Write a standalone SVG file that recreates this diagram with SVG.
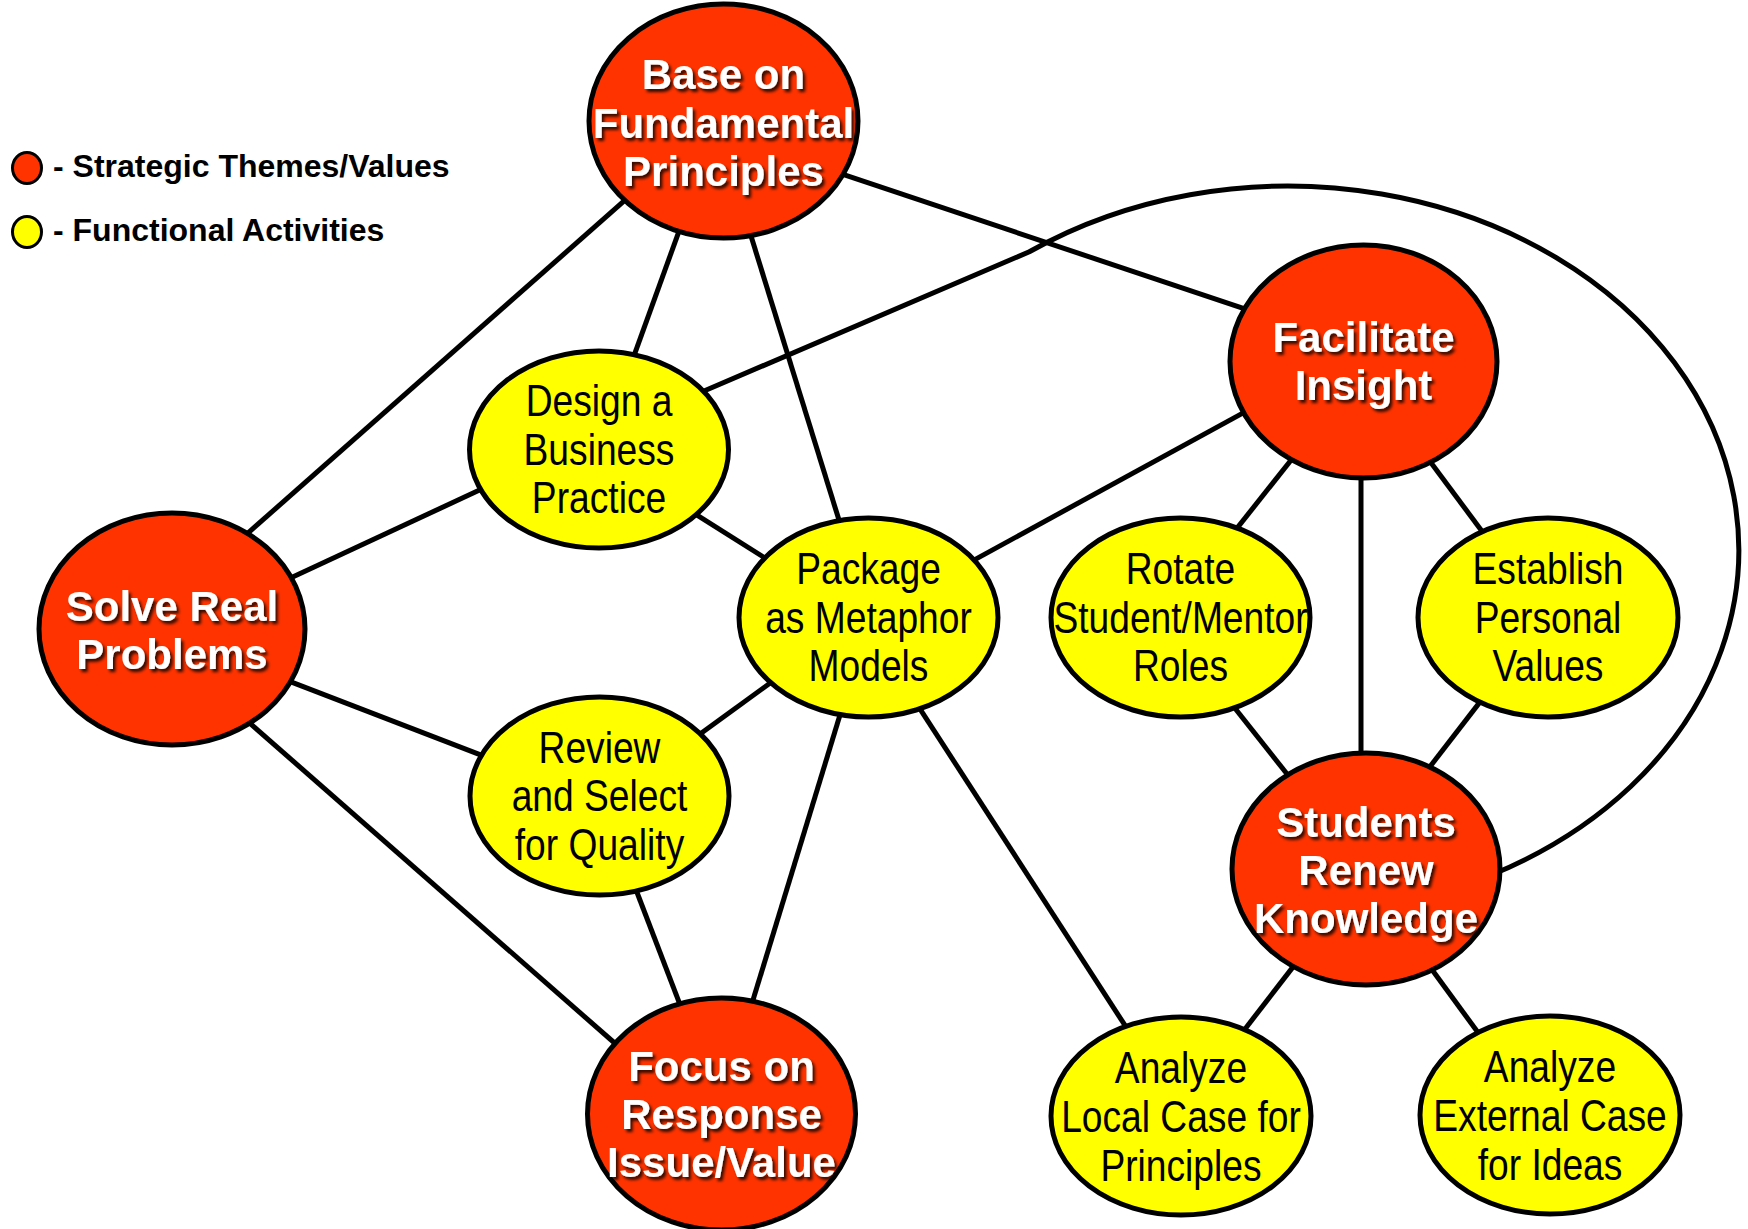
<svg xmlns="http://www.w3.org/2000/svg" width="1748" height="1229" viewBox="0 0 1748 1229">
<defs>
<filter id="sh" x="-10%" y="-20%" width="130%" height="150%">
<feDropShadow dx="2.5" dy="3" stdDeviation="1.5" flood-color="#000" flood-opacity="0.8"/>
</filter>
</defs>
<style>
.red{fill:#FF3300;stroke:#000;stroke-width:5}
.yel{fill:#FFFF00;stroke:#000;stroke-width:5}
.lg{stroke:#000;stroke-width:3}
.conn line,.conn path{stroke:#000;stroke-width:5;fill:none}
.rt{font-family:"Liberation Sans",Arial,sans-serif;font-weight:bold;font-size:42px;fill:#fff;text-anchor:middle;filter:url(#sh)}
.yt{font-family:"Liberation Sans",Arial,sans-serif;font-size:43.5px;fill:#000;text-anchor:middle}
.lt{font-family:"Liberation Sans",Arial,sans-serif;font-weight:bold;font-size:32px;fill:#000}
</style>
<rect width="1748" height="1229" fill="#fff"/>
<g id="legend">
<ellipse class="red lg" cx="27" cy="168" rx="14.5" ry="15.5"/>
<text class="lt" x="53" y="177">- Strategic Themes/Values</text>
<ellipse class="yel lg" cx="27" cy="232" rx="14.5" ry="15.5"/>
<text class="lt" x="53" y="241">- Functional Activities</text>
</g>
<g id="connectors" class="conn">
<line x1="631.5" y1="194.4" x2="240.5" y2="539.6"/>
<line x1="681.2" y1="225.1" x2="631.6" y2="362.4"/>
<line x1="749" y1="229.5" x2="841.8" y2="529.1"/>
<line x1="835.5" y1="171.8" x2="1254.5" y2="312.2"/>
<line x1="488.7" y1="485.8" x2="284.6" y2="580.7"/>
<line x1="689.5" y1="510.4" x2="772.9" y2="563"/>
<line x1="967.5" y1="563.6" x2="1252.8" y2="407.6"/>
<line x1="777" y1="678.1" x2="693.9" y2="738.4"/>
<line x1="842.4" y1="707.1" x2="750.1" y2="1009.6"/>
<line x1="915.9" y1="702.6" x2="1129.4" y2="1032.2"/>
<line x1="284.4" y1="679.4" x2="490.3" y2="758.6"/>
<line x1="245.3" y1="719.2" x2="618" y2="1046"/>
<line x1="633.4" y1="883" x2="682.6" y2="1011.3"/>
<line x1="1295.7" y1="454.2" x2="1231.3" y2="535.4"/>
<line x1="1361" y1="470" x2="1361" y2="762"/>
<line x1="1426" y1="456" x2="1487" y2="538"/>
<line x1="1229.4" y1="701.2" x2="1292" y2="780.3"/>
<line x1="1484.5" y1="696.1" x2="1423.6" y2="774.9"/>
<line x1="1297.5" y1="961.1" x2="1241.4" y2="1033.7"/>
<line x1="1427.5" y1="963.5" x2="1482.4" y2="1038.6"/>
<path d="M690,397 L1029.3,251.8 A451,364 0 1 1 1492.8,874.3"/>
</g>
<g id="base">
<ellipse class="red" cx="723.5" cy="121" rx="134.5" ry="117"/>
<text class="rt"><tspan x="723.5" y="89">Base on</tspan><tspan x="723.5" y="137.5">Fundamental</tspan><tspan x="723.5" y="186">Principles</tspan></text>
</g>
<g id="facilitate">
<ellipse class="red" cx="1363.5" cy="361.5" rx="133.5" ry="116.5"/>
<text class="rt"><tspan x="1363.5" y="352">Facilitate</tspan><tspan x="1363.5" y="400">Insight</tspan></text>
</g>
<g id="solve">
<ellipse class="red" cx="172" cy="629" rx="133" ry="116"/>
<text class="rt"><tspan x="172" y="621">Solve Real</tspan><tspan x="172" y="669">Problems</tspan></text>
</g>
<g id="students">
<ellipse class="red" cx="1366" cy="869" rx="134" ry="116"/>
<text class="rt"><tspan x="1366" y="837">Students</tspan><tspan x="1366" y="885">Renew</tspan><tspan x="1366" y="933">Knowledge</tspan></text>
</g>
<g id="focus">
<ellipse class="red" cx="721.5" cy="1114" rx="134" ry="116"/>
<text class="rt"><tspan x="721.5" y="1081">Focus on</tspan><tspan x="721.5" y="1129">Response</tspan><tspan x="721.5" y="1177">Issue/Value</tspan></text>
</g>
<g id="design">
<ellipse class="yel" cx="599" cy="449.5" rx="129.5" ry="98.5"/>
<text class="yt" transform="translate(599 0) scale(0.855 1)"><tspan x="0" y="416.5">Design a</tspan><tspan x="0" y="465">Business</tspan><tspan x="0" y="513.5">Practice</tspan></text>
</g>
<g id="package">
<ellipse class="yel" cx="868.5" cy="617.5" rx="129.5" ry="99.5"/>
<text class="yt" transform="translate(868.5 0) scale(0.855 1)"><tspan x="0" y="584.5">Package</tspan><tspan x="0" y="633">as Metaphor</tspan><tspan x="0" y="681.5">Models</tspan></text>
</g>
<g id="review">
<ellipse class="yel" cx="599.5" cy="796" rx="129.5" ry="99"/>
<text class="yt" transform="translate(599.5 0) scale(0.855 1)"><tspan x="0" y="763">Review</tspan><tspan x="0" y="811.5">and Select</tspan><tspan x="0" y="860">for Quality</tspan></text>
</g>
<g id="rotate">
<ellipse class="yel" cx="1180.5" cy="617.5" rx="129.5" ry="99.5"/>
<text class="yt" transform="translate(1180.5 0) scale(0.855 1)"><tspan x="0" y="584.5">Rotate</tspan><tspan x="0" y="633">Student/Mentor</tspan><tspan x="0" y="681.5">Roles</tspan></text>
</g>
<g id="establish">
<ellipse class="yel" cx="1548" cy="617.5" rx="130" ry="99.5"/>
<text class="yt" transform="translate(1548 0) scale(0.855 1)"><tspan x="0" y="584.5">Establish</tspan><tspan x="0" y="633">Personal</tspan><tspan x="0" y="681.5">Values</tspan></text>
</g>
<g id="analyze-local">
<ellipse class="yel" cx="1181" cy="1116" rx="130" ry="99"/>
<text class="yt" transform="translate(1181 0) scale(0.855 1)"><tspan x="0" y="1083">Analyze</tspan><tspan x="0" y="1132">Local Case for</tspan><tspan x="0" y="1181">Principles</tspan></text>
</g>
<g id="analyze-external">
<ellipse class="yel" cx="1550" cy="1115" rx="130" ry="99"/>
<text class="yt" transform="translate(1550 0) scale(0.855 1)"><tspan x="0" y="1082.5">Analyze</tspan><tspan x="0" y="1131.5">External Case</tspan><tspan x="0" y="1180.5">for Ideas</tspan></text>
</g>
</svg>
